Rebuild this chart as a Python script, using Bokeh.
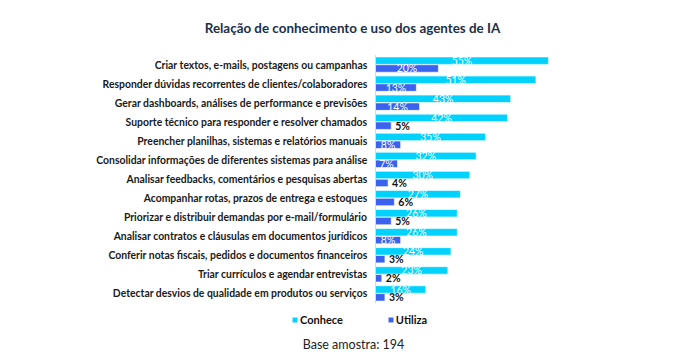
from bokeh.plotting import figure
from bokeh.models import ColumnDataSource, FactorRange, Range1d, Legend, LegendItem, Label
from bokeh.transform import dodge
from bokeh.core.properties import value
from bokeh.embed import file_html
from bokeh.resources import INLINE

categories = [
    "Criar textos, e-mails, postagens ou campanhas",
    "Responder dúvidas recorrentes de clientes/colaboradores",
    "Gerar dashboards, análises de performance e previsões",
    "Suporte técnico para responder e resolver chamados",
    "Preencher planilhas, sistemas e relatórios manuais",
    "Consolidar informações de diferentes sistemas para análise",
    "Analisar feedbacks, comentários e pesquisas abertas",
    "Acompanhar rotas, prazos de entrega e estoques",
    "Priorizar e distribuir demandas por e-mail/formulário",
    "Analisar contratos e cláusulas em documentos jurídicos",
    "Conferir notas fiscais, pedidos e documentos financeiros",
    "Triar currículos e agendar entrevistas",
    "Detectar desvios de qualidade em produtos ou serviços",
]
conhece = [55, 51, 43, 42, 35, 32, 30, 27, 26, 26, 24, 23, 16]
utiliza = [20, 13, 14, 5, 8, 7, 4, 6, 5, 8, 3, 2, 3]
series_names = ["Conhece", "Utiliza"]
title_text = "Relação de conhecimento e uso dos agentes de IA"
base_text = "Base amostra: 194"

C_CON = "#00D2FF"
C_UTI = "#3A62EE"
FONT = "Lato"

W, H = 670, 357
AXIS_X = 375          # pixel position of the value axis inside the canvas
PX_PER_UNIT = 3.145

cats_rev = categories[::-1]

src = ColumnDataSource(dict(
    cat=categories,
    con=conhece,
    uti=utiliza,
    con_mid=[v / 2 for v in conhece],
    con_lbl=[f"{v}%" for v in conhece],
))
inside = [i for i, v in enumerate(utiliza) if v >= 7]
outside = [i for i, v in enumerate(utiliza) if v < 7]
src_in = ColumnDataSource(dict(
    cat=[categories[i] for i in inside],
    x=[utiliza[i] / 2 for i in inside],
    t=[f"{utiliza[i]}%" for i in inside],
))
src_out = ColumnDataSource(dict(
    cat=[categories[i] for i in outside],
    x=[utiliza[i] for i in outside],
    t=[f"{utiliza[i]}%" for i in outside],
))
src_axis = ColumnDataSource(dict(top=[categories[0]], bottom=[categories[-1]]))

p = figure(
    width=W, height=H,
    y_range=FactorRange(factors=cats_rev, range_padding=2.86, range_padding_units="absolute"),
    x_range=Range1d(-AXIS_X / PX_PER_UNIT, (W - AXIS_X) / PX_PER_UNIT),
    output_backend="svg", toolbar_location=None,
    min_border=0,
)
p.title.visible = False
p.xaxis.visible = False
p.yaxis.visible = False
p.xgrid.visible = False
p.ygrid.visible = False
p.outline_line_color = None

off = 0.205
h = 0.39
r1 = p.hbar(y=dodge("cat", off, range=p.y_range), right="con", height=h, left=0,
            source=src, fill_color=C_CON, line_color="white", line_width=0.6)
r2 = p.hbar(y=dodge("cat", -off, range=p.y_range), right="uti", height=h, left=0,
            source=src, fill_color=C_UTI, line_color="white", line_width=0.6)

# value axis line
p.segment(x0=0, x1=0, y0=dodge("top", 0.5, range=p.y_range),
          y1=dodge("bottom", -0.5, range=p.y_range), source=src_axis,
          line_color="#D9D9D9", line_width=1)

# category labels
p.text(x=0, y="cat", text="cat", source=src, x_offset=-8,
       text_color="#1A1A1A", text_align="right", text_baseline="middle",
       text_font=value(FONT), text_font_size="10.4px", text_font_style="bold")

# value labels
p.text(x="con_mid", y=dodge("cat", off, range=p.y_range), text="con_lbl", source=src,
       text_color="white", text_align="center", text_baseline="middle",
       text_font=value(FONT), text_font_size="10.5px")
p.text(x="x", y=dodge("cat", -off, range=p.y_range), text="t", source=src_in,
       text_color="white", text_align="center", text_baseline="middle",
       text_font=value(FONT), text_font_size="10.5px")
p.text(x="x", y=dodge("cat", -off, range=p.y_range), text="t", source=src_out,
       text_color="#111111", text_align="left", text_baseline="middle", x_offset=4,
       text_font=value(FONT), text_font_size="10.5px", text_font_style="bold")

p.add_layout(Label(x=352, y=H - 27, x_units="screen", y_units="screen",
                   text=title_text, text_align="center", text_baseline="middle",
                   text_font=FONT, text_font_size="13.4px", text_font_style="bold",
                   text_color="#1B2F4A"))

legend = Legend(items=[LegendItem(label=series_names[0], renderers=[r1]),
                       LegendItem(label=series_names[1], renderers=[r2])],
                orientation="horizontal", location=(291, H - 326),
                label_text_font=FONT, label_text_font_size="11px",
                label_text_font_style="bold", label_text_color="#111111",
                glyph_width=7, glyph_height=7, label_standoff=2, spacing=44,
                padding=0, margin=0, label_height=12, border_line_color=None,
                background_fill_alpha=0)
p.add_layout(legend)

p.add_layout(Label(x=353, y=H - 344, x_units="screen", y_units="screen",
                   text=base_text, text_align="center", text_baseline="middle",
                   text_font=FONT, text_font_size="12.5px", text_color="#222222"))

open("out.html", "w").write(file_html(p, INLINE))
